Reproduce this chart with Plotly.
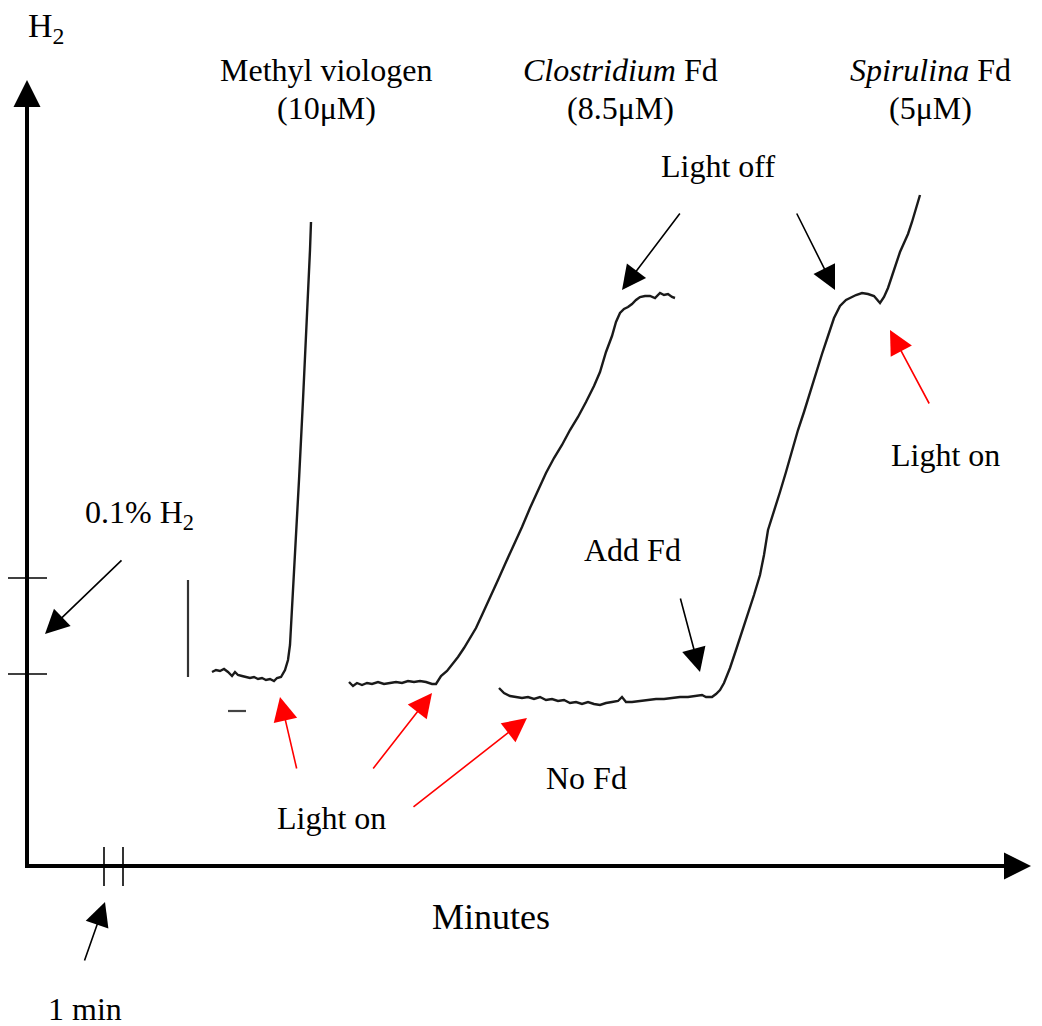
import plotly.graph_objects as go

# ---- data (chart frame units) ----
mv_x = [212, 216, 220, 224, 228, 232, 235, 238, 242, 246, 250, 254, 258, 262, 266, 270, 274, 277, 281, 285, 288, 290, 292, 295, 299, 303, 307, 310, 311]
mv_y = [672, 670, 671, 669, 672, 676, 672, 675, 676, 677, 678, 677, 679, 678, 680, 679, 681, 678, 677, 670, 660, 645, 610, 560, 480, 400, 320, 250, 222]

cl_x = [349, 353, 357, 362, 367, 372, 378, 384, 390, 396, 402, 408, 414, 420, 426, 432, 436, 441, 447, 452, 458, 464, 470, 476, 482, 490, 498, 506, 514, 522, 530, 538, 546, 554, 562, 570, 578, 586, 594, 600, 606, 612, 616, 620, 624, 628, 632, 636, 640, 645, 650, 655, 660, 664, 668, 672, 675]
cl_y = [682, 686, 683, 685, 683, 684, 682, 684, 683, 682, 683, 681, 682, 681, 682, 684, 684, 676, 671, 665, 657, 648, 638, 628, 615, 598, 580, 562, 545, 527, 508, 490, 473, 458, 445, 430, 417, 402, 386, 372, 352, 336, 322, 313, 309, 307, 304, 300, 297, 296, 296, 298, 293, 295, 294, 297, 298]

sp_x = [499, 504, 510, 516, 522, 528, 534, 540, 546, 552, 558, 564, 570, 576, 582, 588, 594, 600, 606, 612, 618, 622, 626, 632, 640, 648, 656, 664, 672, 680, 688, 696, 702, 706, 712, 716, 720, 724, 730, 736, 742, 748, 754, 760, 764, 768, 774, 780, 786, 792, 798, 804, 810, 816, 822, 828, 834, 840, 846, 850, 856, 862, 868, 874, 878, 880, 884, 888, 892, 896, 900, 904, 908, 912, 916, 920]
sp_y = [688, 693, 696, 697, 698, 697, 699, 697, 700, 699, 701, 700, 703, 702, 704, 702, 704, 705, 703, 702, 701, 697, 702, 702, 701, 700, 699, 699, 698, 697, 697, 696, 695, 697, 697, 694, 690, 683, 668, 650, 632, 615, 595, 575, 555, 530, 512, 492, 472, 450, 430, 412, 392, 372, 354, 336, 318, 306, 300, 298, 295, 293, 294, 296, 300, 303, 297, 288, 276, 263, 252, 243, 234, 222, 208, 195]

y_tick_levels = [578, 674]
x_tick_levels = [104, 123]

W, H = 1042, 1026
FONT = "Liberation Serif, Times New Roman, serif"
TRACE = "#1a1a1a"

fig = go.Figure()
for xs, ys in [(mv_x, mv_y), (cl_x, cl_y), (sp_x, sp_y)]:
    fig.add_trace(go.Scatter(x=xs, y=ys, mode="lines",
                             line=dict(color=TRACE, width=2.4, shape="linear"),
                             hoverinfo="skip", showlegend=False))

shapes = []
shapes.append(dict(type="line", x0=27, y0=866, x1=27, y1=100, line=dict(color="black", width=4)))
shapes.append(dict(type="line", x0=25, y0=866, x1=1010, y1=866, line=dict(color="black", width=4)))
for yv in y_tick_levels:
    shapes.append(dict(type="line", x0=8, y0=yv, x1=47, y1=yv, line=dict(color="black", width=1.6)))
for xv in x_tick_levels:
    shapes.append(dict(type="line", x0=xv, y0=847, x1=xv, y1=886, line=dict(color="black", width=1.6)))
shapes.append(dict(type="line", x0=188, y0=580, x1=188, y1=677, line=dict(color="#333", width=2.2)))
shapes.append(dict(type="line", x0=228, y0=711, x1=246, y1=711, line=dict(color="#444", width=2.2)))

ann = []
def arrow(tail, head, color, width=1.6, size=3.0):
    ann.append(dict(x=head[0], y=head[1], ax=tail[0], ay=tail[1], xref="x", yref="y",
                    axref="x", ayref="y", text="", showarrow=True, arrowhead=2,
                    arrowsize=size, arrowwidth=width, arrowcolor=color, standoff=0))

arrow((27, 200), (27, 80), "black", width=4, size=1.35)
arrow((900, 866), (1031, 866), "black", width=4, size=1.35)

arrow((297, 770), (280, 697), "#ff0000")
arrow((372, 770), (432, 693), "#ff0000")
arrow((412, 808), (527, 718), "#ff0000")
arrow((930, 405), (890, 330), "#ff0000")
arrow((681, 212), (622, 290), "black")
arrow((796, 212), (835, 290), "black")
arrow((680, 597), (700, 672), "black")
arrow((123, 559), (45, 634), "black")
arrow((84, 962), (105, 902), "black")

def label(x, y, text, size=32):
    ann.append(dict(x=x, y=y, xref="x", yref="y", text=text, showarrow=False,
                    xanchor="center", yanchor="middle",
                    font=dict(family=FONT, size=size, color="black")))

label(46, 28, "H<sub>2</sub>", size=34)
label(326, 70, "Methyl viologen")
label(326, 108, "(10μM)")
label(620, 70, "<i>Clostridium</i> Fd")
label(620, 108, "(8.5μM)")
label(930, 70, "<i>Spirulina</i> Fd")
label(930, 108, "(5μM)")
label(718, 166, "Light off")
label(945, 455, "Light on")
label(632, 550, "Add Fd")
label(139, 514, "0.1% H<sub>2</sub>")
label(586, 778, "No Fd")
label(331, 818, "Light on")
label(491, 917, "Minutes", size=36)
label(85, 1009, "1 min")

fig.update_layout(
    width=W, height=H, margin=dict(l=0, r=0, t=0, b=0),
    paper_bgcolor="white", plot_bgcolor="white",
    xaxis=dict(range=[0, W], visible=False, fixedrange=True),
    yaxis=dict(range=[H, 0], visible=False, fixedrange=True),
    shapes=shapes, annotations=ann, showlegend=False,
)
fig.write_html("out.html", config={"displayModeBar": False},
               post_script="document.body.style.margin='0';document.body.style.overflow='hidden';")
